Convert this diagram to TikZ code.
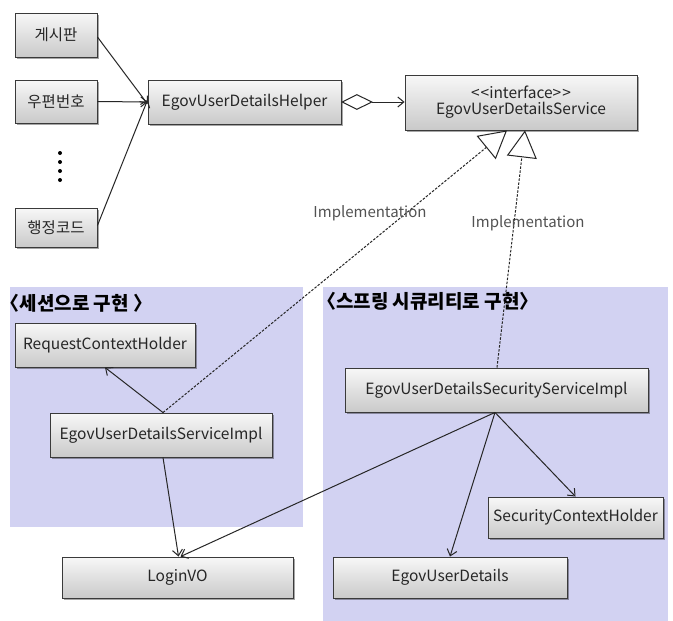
\documentclass[tikz,border=0pt]{standalone}
\usepackage{fontspec}
\newfontfamily\kfont{Noto Sans CJK KR}
\usetikzlibrary{arrows.meta,shadows,shapes.geometric}
\definecolor{region}{HTML}{D2D2F2}
\definecolor{edge}{HTML}{262626}
\definecolor{boxline}{HTML}{3A3A3A}
\tikzset{
  cls/.style={draw=boxline, line width=0.9pt, top color=gray!6, bottom color=gray!42,
    inner sep=0pt, text=black!85, font=\kfont\fontsize{15.5}{18}\selectfont,
    drop shadow={shadow xshift=1.5pt, shadow yshift=-1.5pt, opacity=0.35, fill=black}},
  assoc/.style={draw=edge, line width=1pt, -{Straight Barb[length=6pt,width=10pt,line width=1pt]}},
  impl/.style={draw=edge, line width=1pt, dash pattern=on 2.5pt off 1.5pt,
    -{Triangle[open, length=27pt, width=30pt, line width=1pt, fill=white]}},
  lbl/.style={font=\kfont\fontsize{15}{17}\selectfont, text=black!68},
  rgn/.style={fill=region, draw=none},
  rgnlbl/.style={font=\kfont\bfseries\fontsize{19}{22}\selectfont, anchor=west, inner sep=0pt},
}
\begin{document}
\begin{tikzpicture}[x=1pt,y=-1pt]
\useasboundingbox (0,0) rectangle (673,621);
\fill[white] (0,0) rectangle (673,621);
% regions
\path[rgn] (10,287) rectangle (303,527);
\path[rgn] (323,287) rectangle (668,621);
\node[rgnlbl] (lr) at (0.5,303) {〈세션으로 구현 〉};
\node[rgnlbl] (rr) at (317,301) {〈스프링 시큐리티로 구현〉};
% boxes
\node[cls, minimum width=82pt, minimum height=44pt] (b1) at (56,35) {게시판};
\node[cls, minimum width=82pt, minimum height=43pt] (b2) at (56,101.5) {우편번호};
\node[cls, minimum width=82pt, minimum height=39pt] (b3) at (56,227.5) {행정코드};
\node[cls, minimum width=193pt, minimum height=44pt] (helper) at (244.5,102) {EgovUserDetailsHelper};
\node[cls, minimum width=232pt, minimum height=55pt, align=center] (iface) at (521,102.5) {<\kern1pt<interface>\kern1pt>\\[-2pt]EgovUserDetailsService};
\node[cls, minimum width=180pt, minimum height=44pt] (rch) at (105,345) {RequestContextHolder};
\node[cls, minimum width=222pt, minimum height=44pt] (implA) at (161,435) {EgovUserDetailsServiceImpl};
\node[cls, minimum width=231pt, minimum height=41pt] (login) at (177.5,577.5) {LoginVO};
\node[cls, minimum width=303pt, minimum height=44pt] (sec) at (496.5,390) {EgovUserDetailsSecurityServiceImpl};
\node[cls, minimum width=175pt, minimum height=41pt] (sch) at (575.5,517.5) {SecurityContextHolder};
\node[cls, minimum width=234pt, minimum height=41pt] (eud) at (450,577.5) {EgovUserDetails};
% dots
\foreach \yy [count=\i] in {153,162,171,180} \fill[black] (60,\yy) circle (2pt) coordinate (dot\i);
% coordinates
\coordinate (hin) at (helper.west);
\coordinate (t1) at ([xshift=-14pt]iface.south);
\coordinate (t2) at ([xshift=4pt]iface.south);
\coordinate (iA) at ([xshift=2pt]implA.north);
\coordinate (sT) at ([xshift=0.5pt]sec.north);
\coordinate (sB) at ([xshift=-1.5pt]sec.south);
\coordinate (iB) at ([xshift=2pt]implA.south);
% connectors
\draw[assoc] ([yshift=-2pt]b1.east) -- ([yshift=-2pt]hin);
\draw[assoc] (b2.east) -- (hin);
\draw[assoc] ([yshift=2pt]b3.east) -- ([yshift=2pt]hin);
\node[diamond, draw=edge, line width=1pt, fill=white, minimum width=30pt, minimum height=15pt, inner sep=0pt, anchor=west] (dia) at (helper.east) {};
\draw[assoc] (dia.east) -- (iface.west |- dia.east);
\draw[impl] (iA) -- (t1);
\draw[impl] (sT) -- (t2);
\draw[assoc] (iA) -- (rch.south);
\draw[assoc] (iB) -- ([xshift=1pt]login.north);
\draw[assoc] (sB) -- ([xshift=3pt]login.north);
\draw[assoc] (sB) -- (eud.north);
\draw[assoc] (sB) -- (sch.north);
\node[lbl] (l1) at (370,213) {Implementation};
\node[lbl] (l2) at (528,223) {Implementation};
\end{tikzpicture}
\end{document}
